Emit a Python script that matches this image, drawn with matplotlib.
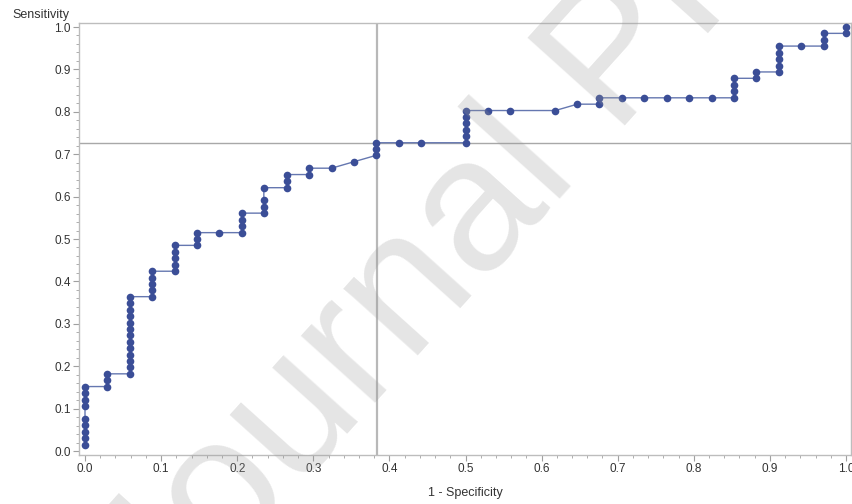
import matplotlib.pyplot as plt
from matplotlib.ticker import MultipleLocator
import numpy as np

# ROC points, grouped by 1 - specificity column
fpr_cols = [0.0, 0.029, 0.059, 0.088, 0.118, 0.147, 0.176, 0.206, 0.235, 0.265,
            0.294, 0.324, 0.353, 0.382, 0.412, 0.441, 0.5, 0.529, 0.559, 0.618,
            0.647, 0.676, 0.706, 0.735, 0.765, 0.794, 0.824, 0.853, 0.882, 0.912,
            0.941, 0.971, 1.0]
tpr_cols = [
    [0.015, 0.030, 0.045, 0.061, 0.076, 0.106, 0.121, 0.136, 0.152],
    [0.152, 0.167, 0.182],
    [0.182, 0.197, 0.212, 0.227, 0.242, 0.258, 0.273, 0.288, 0.303, 0.318,
     0.333, 0.348, 0.364],
    [0.364, 0.379, 0.394, 0.409, 0.424],
    [0.424, 0.439, 0.455, 0.470, 0.485],
    [0.485, 0.500, 0.515],
    [0.515],
    [0.515, 0.530, 0.545, 0.561],
    [0.561, 0.576, 0.591, 0.621],
    [0.621, 0.636, 0.652],
    [0.652, 0.667],
    [0.667],
    [0.682],
    [0.697, 0.712, 0.727],
    [0.727],
    [0.727],
    [0.727, 0.742, 0.758, 0.773, 0.788, 0.803],
    [0.803],
    [0.803],
    [0.803],
    [0.818],
    [0.818, 0.833],
    [0.833],
    [0.833],
    [0.833],
    [0.833],
    [0.833],
    [0.833, 0.848, 0.864, 0.879],
    [0.879, 0.894],
    [0.894, 0.909, 0.924, 0.939, 0.955],
    [0.955],
    [0.955, 0.970, 0.985],
    [0.985, 1.000],
]
cut_fpr = 0.384
cut_tpr = 0.726
x_ticks = [0.0, 0.1, 0.2, 0.3, 0.4, 0.5, 0.6, 0.7, 0.8, 0.9, 1.0]

fpr = []
tpr = []
for x, ys in zip(fpr_cols, tpr_cols):
    for y in ys:
        fpr.append(x)
        tpr.append(y)
fpr = np.array(fpr)
tpr = np.array(tpr)

plt.rcParams['font.family'] = ['Liberation Sans', 'DejaVu Sans']

fig = plt.figure(figsize=(8.52, 5.04), dpi=100)
ax = fig.add_axes([79 / 852, 1 - 455 / 504, 772 / 852, 432 / 504])

ax.axvline(cut_fpr, color='#b8b8b8', lw=1.6, zorder=1)
ax.axhline(cut_tpr, color='#a8a8a8', lw=1.0, zorder=1)

ax.plot(fpr, tpr, color='#6577b0', lw=1.0, zorder=2)
ax.plot(fpr, tpr, 'o', color='#3b4e97', markersize=5.5, markeredgewidth=0, zorder=3)

ax.set_xlim(-6 / 761, 1 + 5 / 761)
ax.set_ylim(-4 / 424, 1 + 4 / 424)
ax.set_xticks(x_ticks)
ax.set_yticks(x_ticks)
ax.set_xticklabels([f'{t:.1f}' for t in x_ticks])
ax.set_yticklabels([f'{t:.1f}' for t in x_ticks])
ax.xaxis.set_minor_locator(MultipleLocator(0.02))
ax.yaxis.set_minor_locator(MultipleLocator(0.02))
ax.tick_params(which='major', length=4, width=0.8, color='#a0a0a0',
               labelsize=8.5, labelcolor='#333333', pad=2)
ax.tick_params(which='minor', length=2.5, width=0.6, color='#a0a0a0')
for s in ax.spines.values():
    s.set_color('#bdbdbd')
    s.set_linewidth(1.0)

fig.text(12 / 852, 1 - 15 / 504, 'Sensitivity', fontsize=9, color='#333333',
         ha='left', va='center')
fig.text(465 / 852, 1 - 493 / 504, '1 - Specificity', fontsize=9, color='#333333',
         ha='center', va='center')

# diagonal watermark drawn over everything
fig.text(162 / 852, 1 - 640 / 504, 'Journal Pre-proof', fontsize=137,
         color='#9a9a9a', alpha=0.26, rotation=48, rotation_mode='anchor',
         ha='left', va='baseline', zorder=10)

fig.savefig('out.png', dpi=100)
